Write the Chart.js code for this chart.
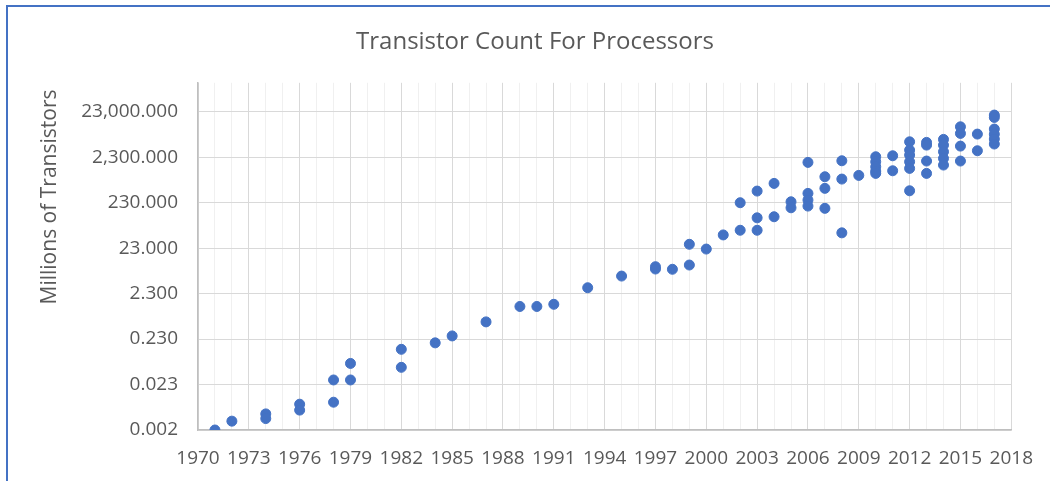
<!DOCTYPE html>
<html>
<head>
<meta charset="utf-8">
<title>Transistor Count For Processors</title>
<script src="https://cdn.jsdelivr.net/npm/chart.js@4"></script>
<style>
  html, body { margin: 0; padding: 0; background: #fff; overflow: hidden; }
  #wrap { position: relative; width: 1050px; height: 481px; }
  #frame {
    position: absolute; left: 6px; top: 5px; width: 1100px; height: 500px;
    border-left: 2px solid #4472C4; border-top: 2px solid #4472C4;
    pointer-events: none;
  }
</style>
</head>
<body>
<div id="wrap">
  <canvas id="chart" width="1050" height="481"></canvas>
  <div id="frame"></div>
</div>
<script>
const chartTitle = "Transistor Count For Processors";
const yAxisTitle = "Millions of Transistors";

// one entry per processor: year introduced, transistor count in millions
const pointYears = [
  1971, 1972, 1974, 1974, 1976, 1976, 1978, 1978, 1979, 1979,
  1982, 1982, 1984, 1985, 1987, 1989, 1990, 1991, 1993, 1995,
  1997, 1997, 1998, 1999, 1999, 2000, 2001, 2002, 2002,
  2003, 2003, 2003, 2004, 2004, 2005, 2005,
  2006, 2006, 2006, 2006, 2007, 2007, 2007, 2008, 2008, 2008, 2009,
  2010, 2010, 2010, 2010, 2010, 2011, 2011,
  2012, 2012, 2012, 2012, 2012, 2012,
  2013, 2013, 2013, 2013,
  2014, 2014, 2014, 2014, 2014,
  2015, 2015, 2015, 2015, 2016, 2016,
  2017, 2017, 2017, 2017, 2017, 2017
];
const pointMillions = [
  0.0023, 0.0036, 0.0052, 0.0041, 0.0085, 0.0063, 0.0094, 0.029, 0.067, 0.029,
  0.137, 0.055, 0.19, 0.27, 0.55, 1.2, 1.2, 1.34, 3.1, 5.6,
  9.0, 8.0, 7.9, 28, 9.8, 22, 45, 230, 57,
  415, 107, 57, 612, 113, 241, 178,
  1775, 369, 263, 194, 857, 476, 173, 1926, 762, 50, 918,
  2360, 1830, 1420, 1140, 1016, 2480, 1160,
  5030, 3310, 2570, 1830, 1310, 421,
  4890, 4260, 1900, 1016,
  5690, 4260, 3040, 2170, 1550,
  10760, 7700, 4050, 1900, 7440, 3200,
  19500, 17300, 9600, 7400, 5800, 4500
];

const yTickValues = [0.0023, 0.023, 0.23, 2.3, 23, 230, 2300, 23000];
const yMax = 100000;
const xMin = 1970;
const xMax = 2018;
const xLabelStep = 3;

const textColor = "#595959";
const fontFamily = '"Open Sans", "Noto Sans", sans-serif';

const points = pointYears.map((yr, i) => ({ x: yr, y: pointMillions[i] }));

// axis title drawn by hand so it sits where Excel put it
const yTitlePlugin = {
  id: "yTitle",
  afterDraw(chart) {
    const ctx = chart.ctx;
    ctx.save();
    ctx.translate(50, 197);
    ctx.rotate(-Math.PI / 2);
    ctx.font = "21px " + fontFamily;
    ctx.fillStyle = textColor;
    ctx.textAlign = "center";
    ctx.textBaseline = "middle";
    ctx.fillText(yAxisTitle, 0, 0);
    ctx.restore();
  }
};

new Chart(document.getElementById("chart"), {
  type: "scatter",
  data: {
    datasets: [
      {
        label: "Processors",
        data: points,
        backgroundColor: "#4472C4",
        borderColor: "#4472C4",
        borderWidth: 1,
        pointRadius: 5,
        pointHoverRadius: 5,
      },
    ],
  },
  options: {
    responsive: false,
    animation: false,
    layout: { padding: { top: 0, left: 53, right: 33, bottom: 0 } },
    plugins: {
      legend: { display: false },
      tooltip: { enabled: false },
      title: {
        display: true,
        text: chartTitle,
        color: textColor,
        font: { family: fontFamily, size: 24, weight: "normal" },
        padding: { top: 28, bottom: 26 },
      },
    },
    scales: {
      x: {
        type: "linear",
        min: xMin,
        max: xMax,
        afterBuildTicks: (scale) => {
          const t = [];
          for (let yr = xMin; yr <= xMax; yr++) t.push({ value: yr });
          scale.ticks = t;
        },
        afterFit: (scale) => {
          scale.height = 51;
        },
        ticks: {
          autoSkip: false,
          maxRotation: 0,
          minRotation: 0,
          padding: 17,
          color: textColor,
          font: { family: fontFamily, size: 19 },
          callback: (v) => ((v - xMin) % xLabelStep === 0 ? String(v) : ""),
        },
        grid: {
          drawTicks: false,
          color: (ctx) => {
            if (!ctx.tick) return "#d9d9d9";
            return (ctx.tick.value - xMin) % xLabelStep === 0 ? "#d9d9d9" : "#f0f0f0";
          },
        },
        border: { color: "#bfbfbf", width: 1.5 },
      },
      y: {
        type: "logarithmic",
        min: yTickValues[0],
        max: yMax,
        afterBuildTicks: (scale) => {
          scale.ticks = yTickValues.map((v) => ({ value: v }));
        },
        afterFit: (scale) => {
          scale.width = 145;
        },
        ticks: {
          padding: 20,
          color: textColor,
          font: { family: fontFamily, size: 19 },
          callback: (v) =>
            Number(v).toLocaleString("en-US", {
              minimumFractionDigits: 3,
              maximumFractionDigits: 3,
            }),
        },
        grid: { drawTicks: false, color: "#d9d9d9" },
        border: { color: "#bfbfbf", width: 1.5 },
      },
    },
  },
  plugins: [yTitlePlugin],
});
</script>
</body>
</html>
